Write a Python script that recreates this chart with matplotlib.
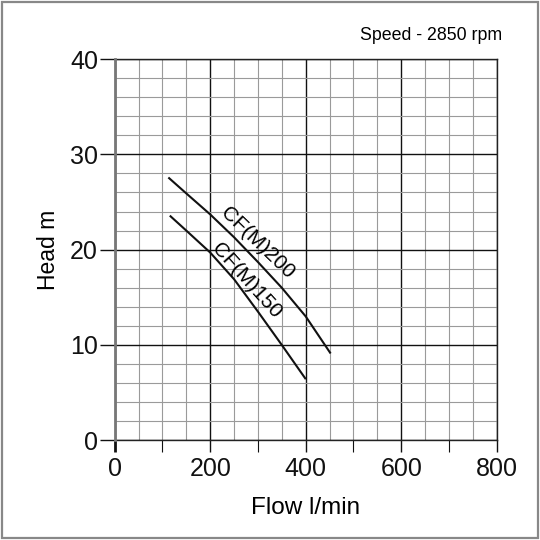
import numpy as np
import matplotlib
matplotlib.use("Agg")
import matplotlib.pyplot as plt
from matplotlib.patches import Rectangle

plt.rcParams['font.family'] = ['Liberation Sans', 'DejaVu Sans']

# Data
flow_200 = [114, 150, 200, 250, 300, 350, 400, 451]
head_200 = [27.5, 25.9, 23.7, 21.3, 18.7, 16.0, 13.0, 9.2]
flow_150 = [117, 150, 200, 250, 300, 350, 399]
head_150 = [23.5, 22.0, 19.7, 16.9, 13.5, 10.0, 6.5]
curve_labels = ["CF(M)200", "CF(M)150"]
x_ticks = [0, 200, 400, 600, 800]
y_ticks = [0, 10, 20, 30, 40]

fig = plt.figure(figsize=(5.4, 5.4), dpi=100)
ax = fig.add_axes([0.2124, 0.1846, 0.7074, 0.7061])
ax.set_xlim(0, 800)
ax.set_ylim(0, 40)

# grid
for gx in np.arange(0, 801, 50):
    major = gx % 200 == 0
    ax.axvline(gx, color='#111111' if major else '#9a9a9a',
               lw=1.0 if major else 0.8, zorder=1)
for gy in np.arange(0, 41, 2):
    major = gy % 10 == 0
    ax.axhline(gy, color='#111111' if major else '#9a9a9a',
               lw=1.0 if major else 0.8, zorder=1)

# curves
ax.plot(flow_200, head_200, color='#111111', lw=1.5, zorder=3,
        solid_joinstyle='round')
ax.plot(flow_150, head_150, color='#111111', lw=1.5, zorder=3,
        solid_joinstyle='round')
ax.text(299, 20.7, curve_labels[0], rotation=-44, fontsize=15,
        ha='center', va='center', zorder=4, rotation_mode='anchor')
ax.text(277, 16.8, curve_labels[1], rotation=-48, fontsize=15,
        ha='center', va='center', zorder=4, rotation_mode='anchor')

# spines
for s in ['top', 'right', 'bottom']:
    ax.spines[s].set_color('#222222')
    ax.spines[s].set_linewidth(1.0)
ax.spines['left'].set_color('#777777')
ax.spines['left'].set_linewidth(2.0)
ax.spines['left'].set_zorder(5)

# ticks
ax.set_xticks(np.arange(0, 801, 100))
ax.set_xticklabels([str(v) if v in x_ticks else '' for v in range(0, 801, 100)])
ax.set_yticks(y_ticks)
ax.set_yticklabels([str(v) for v in y_ticks])
ax.tick_params(axis='x', direction='out', length=8.7, width=1.0, pad=3,
               labelsize=18, colors='#111111')
ax.tick_params(axis='y', direction='out', length=10.5, width=1.0, pad=1.5,
               labelsize=18, colors='#111111')
for t, v in zip(ax.xaxis.get_major_ticks(), range(0, 801, 100)):
    if v == 0:
        t.tick1line.set_color('#777777')
        t.tick1line.set_markeredgewidth(2.0)
    elif v % 200 != 0:
        t.tick1line.set_color('#9a9a9a')
        t.tick1line.set_markeredgewidth(0.8)
for t in ax.yaxis.get_major_ticks():
    t.tick1line.set_color('#555555')

ax.set_xlabel('Flow l/min', fontsize=17.5, labelpad=12)
ax.set_ylabel('Head m', fontsize=16.5, labelpad=7)

fig.text(0.929, 0.925, 'Speed - 2850 rpm', fontsize=12.8, ha='right',
         va='baseline')

# figure border
fig.patches.append(Rectangle((0.003, 0.004), 0.993, 0.993, transform=fig.transFigure,
                             fill=False, edgecolor='#888888', lw=1.6))

fig.savefig('out.png', dpi=100)
